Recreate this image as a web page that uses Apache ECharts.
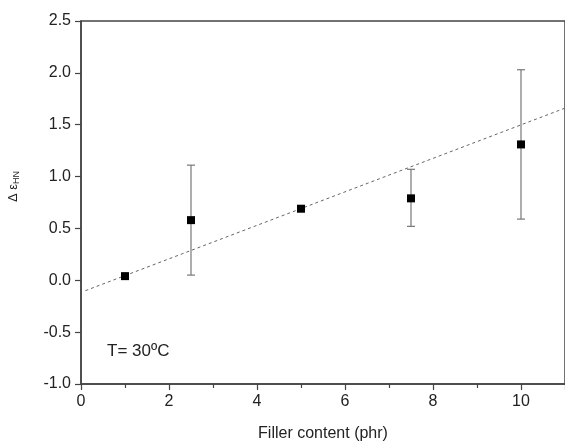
<!DOCTYPE html>
<html>
<head>
<meta charset="utf-8">
<script src="https://cdn.jsdelivr.net/npm/echarts@6/dist/echarts.min.js"></script>
<style>
  html, body { margin: 0; padding: 0; background: #fff; }
  #chart { width: 565px; height: 441px; }
</style>
</head>
<body>
<div id="chart"></div>
<script>
// filler content (phr) and relaxation strength
const fillerX = [1, 2.5, 5, 7.5, 10]
const deltaEps = [0.04, 0.58, 0.69, 0.79, 1.31]
const errLow = [0.04, 0.05, 0.69, 0.52, 0.59]
const errHigh = [0.04, 1.11, 0.69, 1.07, 2.03]
// linear fit end points
const fitX = [0.1, 11]
const fitY = [-0.10, 1.66]

const chart = echarts.init(document.getElementById('chart'))

const points = fillerX.map((x, i) => [x, deltaEps[i]])
const bars = fillerX.map((x, i) => [x, errLow[i], errHigh[i]])
const fit = fitX.map((x, i) => [x, fitY[i]])

const font = 'Liberation Sans, Arial, sans-serif'

chart.setOption({
  animation: false,
  grid: {
    left: 81, right: 0, top: 21, bottom: 57,
    outerBoundsMode: 'none',
    containLabel: false,
    show: true, borderColor: '#444', borderWidth: 1.5, backgroundColor: 'transparent'
  },
  xAxis: {
    type: 'value',
    min: 0, max: 11, interval: 2,
    name: 'Filler content (phr)',
    nameLocation: 'middle',
    nameGap: 42,
    nameTextStyle: { fontFamily: font, fontSize: 16, color: '#222' },
    axisLine: { show: true, onZero: false, lineStyle: { color: '#444', width: 1.5 } },
    axisTick: { show: true, inside: false, length: 6, lineStyle: { color: '#444', width: 1.2 } },
    minorTick: { show: true, splitNumber: 2, length: 4, lineStyle: { color: '#444', width: 1.2 } },
    axisLabel: { fontFamily: font, fontSize: 16, color: '#222', margin: 10,
      showMaxLabel: false },
    splitLine: { show: false }
  },
  yAxis: {
    type: 'value',
    min: -1.0, max: 2.5, interval: 0.5,
    name: '{d|Δ ε}{s|HN}',
    nameLocation: 'middle',
    nameGap: 60,
    nameRotate: 90,
    nameTextStyle: {
      padding: [0, 0, 0, 32],
      rich: {
        d: { fontFamily: font, fontSize: 13, color: '#222' },
        s: { fontFamily: font, fontSize: 9, color: '#222', verticalAlign: 'bottom', padding: [6, 0, 0, 0] }
      }
    },
    axisLine: { show: true, onZero: false, lineStyle: { color: '#444', width: 1.5 } },
    axisTick: { show: true, inside: false, length: 6, lineStyle: { color: '#444', width: 1.2 } },
    axisLabel: { fontFamily: font, fontSize: 16, color: '#222', margin: 10,
      formatter: v => v.toFixed(1) },
    splitLine: { show: false }
  },
  graphic: [{
    type: 'text',
    left: 107, top: 343,
    style: { text: 'T= 30ºC', font: '17px ' + font, fill: '#222' }
  }],
  series: [
    {
      type: 'line',
      data: fit,
      symbol: 'none',
      lineStyle: { color: '#666', width: 1, type: [3, 3] },
      z: 1
    },
    {
      type: 'custom',
      data: bars,
      renderItem: (params, api) => {
        const x = api.value(0)
        const lo = api.coord([x, api.value(1)])
        const hi = api.coord([x, api.value(2)])
        if (Math.abs(hi[1] - lo[1]) < 1) return null
        const style = { stroke: '#777', lineWidth: 1.2 }
        const cap = 4
        return {
          type: 'group',
          children: [
            { type: 'line', shape: { x1: lo[0], y1: lo[1], x2: hi[0], y2: hi[1] }, style },
            { type: 'line', shape: { x1: lo[0] - cap, y1: lo[1], x2: lo[0] + cap, y2: lo[1] }, style },
            { type: 'line', shape: { x1: hi[0] - cap, y1: hi[1], x2: hi[0] + cap, y2: hi[1] }, style }
          ]
        }
      },
      z: 2
    },
    {
      type: 'scatter',
      data: points,
      symbol: 'rect',
      symbolSize: 8,
      itemStyle: { color: '#000', opacity: 1 },
      z: 3
    }
  ]
})
</script>
</body>
</html>
